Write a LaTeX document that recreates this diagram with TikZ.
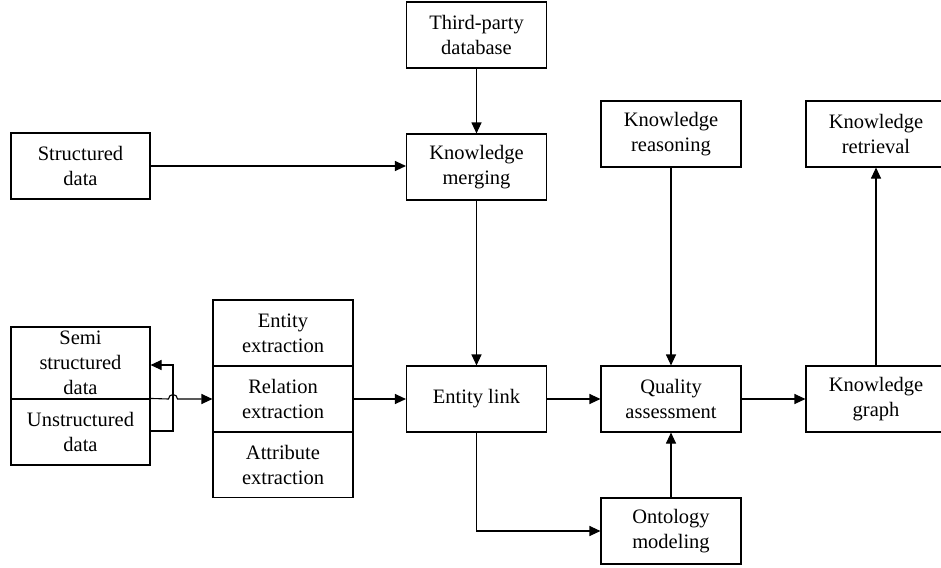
\documentclass[tikz,border=0pt]{standalone}
\usepackage{fontspec}
\setmainfont{Liberation Serif}
\usetikzlibrary{arrows.meta}
\begin{document}
\begin{tikzpicture}[x=1pt,y=-1pt,
  box/.style={draw, line width=1.1pt, minimum width=140pt, minimum height=66pt, inner sep=2pt, align=center, font=\fontsize{20.5}{25}\selectfont},
  conn/.style={line width=1.1pt, -{Triangle[length=11pt,width=10pt]}},
  plain/.style={line width=1.1pt}]
\useasboundingbox (0,0) rectangle (941,567);
\node[box] (tp) at (476.5,35) {Third-party\\database};
\node[box] (km) at (476.5,167) {Knowledge\\merging};
\node[box, minimum width=139pt] (sd) at (80.5,166) {Structured\\data};
\node[box] (kr) at (671,134) {Knowledge\\reasoning};
\node[box] (kret) at (876,134) {Knowledge\\retrieval};
\node[box] (ee) at (283,333) {Entity\\extraction};
\node[box] (re) at (283,399) {Relation\\extraction};
\node[box, minimum height=65pt] (ae) at (283,465) {Attribute\\extraction};
\node[box, minimum width=139pt, minimum height=72pt] (semi) at (80.5,363) {Semi\\structured\\data};
\node[box, minimum width=139pt] (uns) at (80.5,432) {Unstructured\\data};
\node[box] (el) at (476.5,399) {Entity link};
\node[box] (qa) at (671,399) {Quality\\assessment};
\node[box] (kg) at (876,399) {Knowledge\\graph};
\node[box] (om) at (671,531) {Ontology\\modeling};
\coordinate (hopL) at (168.5,399);
\coordinate (bendA) at (173,431);
\coordinate (bendB) at (173,365);
\draw[conn] (tp) -- (km);
\draw[conn] (sd.east) -- (sd.east -| km.west);
\draw[conn] (km) -- (el);
\draw[conn] (kr) -- (qa);
\draw[conn] (kg) -- (kret);
\draw[conn] (re) -- (el);
\draw[conn] (el) -- (qa);
\draw[conn] (qa) -- (kg);
\draw[conn] (el.south) |- (om.west);
\draw[conn] (om) -- (qa);
\draw[conn] (uns.north east) -- (hopL) arc[start angle=180, end angle=0, radius=4.5pt] -- (re.west);
\draw[conn] (uns.east |- bendA) -- (bendA) -- (bendB) -- (semi.east |- bendB);
\end{tikzpicture}
\end{document}
